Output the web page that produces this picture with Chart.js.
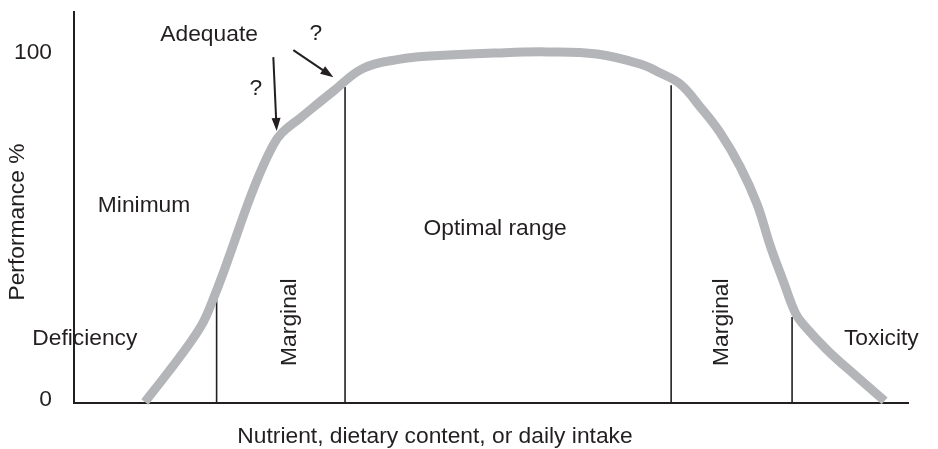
<!DOCTYPE html>
<html>
<head>
<meta charset="utf-8">
<script src="https://cdn.jsdelivr.net/npm/chart.js@4.4.0/dist/chart.umd.min.js"></script>
<style>
  html, body { margin: 0; padding: 0; background: #fff; }
  #wrap { width: 938px; height: 449px; }
</style>
</head>
<body>
<div id="wrap"><canvas id="chart" width="938" height="449"></canvas></div>
<script>
// intake (0-100 along the axis) vs performance %
const curveX = [8.5, 11.3, 13.9, 15.5, 16.5, 17.9, 19.3, 20.7, 22.3, 23.9, 24.9, 27.1, 31.1, 34.7, 39.1, 42.7, 50.7, 56.7, 62.7, 67.9, 70.3, 72.7, 75.1, 77.5, 79.9, 81.9, 83.5, 85.0, 86.5, 87.5, 90.3, 93.9, 97.2];
const curveY = [0.3, 8.9, 17.3, 23.3, 28.8, 37.5, 47.0, 56.5, 66.3, 74.4, 77.8, 82.1, 89.9, 96.5, 99.1, 100.0, 100.9, 101.2, 100.6, 97.7, 95.1, 91.9, 85.3, 77.8, 68.0, 57.3, 45.2, 35.4, 25.9, 22.5, 15.3, 7.5, 0.6];

// zone boundaries: position and height where they meet the curve
const boundaryX = [17.1, 32.5, 71.6, 86.1];
const boundaryTop = [29.7, 91.1, 91.6, 24.8];

const yTicks = [0, 100];

// "?" arrows pointing at the curve
const arrowFrom = [[23.9, 99.7], [26.3, 101.7]];
const arrowTo = [[24.3, 78.4], [31.1, 93.9]];

const zoneText = ["Adequate", "?", "?", "Minimum", "Deficiency", "Optimal range", "Toxicity", "Marginal", "Marginal"];
const zoneTextX = [16.2, 29.0, 21.8, 8.4, 1.3, 50.5, 96.8, 25.9, 77.7];
const zoneTextY = [104.3, 104.6, 88.8, 55.0, 16.7, 48.4, 16.7, 23.3, 23.3];
const zoneTextRot = [0, 0, 0, 0, 0, 0, 0, -90, -90];

const xTitle = "Nutrient, dietary content, or daily intake";
const yTitle = "Performance %";

const INK = "#231f20";
const FONT = '"Liberation Sans", Arial, Helvetica, sans-serif';
const FSIZE = 22.8;

function drawArrow(ctx, x1, y1, x2, y2) {
  const ang = Math.atan2(y2 - y1, x2 - x1);
  const len = 13, half = 4.5;
  const c = Math.cos(ang), s = Math.sin(ang);
  ctx.beginPath();
  ctx.moveTo(x1, y1);
  ctx.lineTo(x2 - len * 0.7 * c, y2 - len * 0.7 * s);
  ctx.stroke();
  ctx.beginPath();
  ctx.moveTo(x2, y2);
  ctx.lineTo(x2 - len * c + half * s, y2 - len * s - half * c);
  ctx.lineTo(x2 - len * c - half * s, y2 - len * s + half * c);
  ctx.closePath();
  ctx.fill();
}

const annotations = {
  id: "annotations",
  afterDatasetsDraw(chart) {
    const { ctx, scales: { x, y }, chartArea } = chart;
    ctx.save();
    ctx.fillStyle = INK;
    ctx.strokeStyle = INK;
    ctx.lineWidth = 2;
    arrowFrom.forEach((p, i) => {
      const q = arrowTo[i];
      drawArrow(ctx, x.getPixelForValue(p[0]), y.getPixelForValue(p[1]),
        x.getPixelForValue(q[0]), y.getPixelForValue(q[1]));
    });

    ctx.font = FSIZE + "px " + FONT;
    zoneText.forEach((t, i) => {
      const px = x.getPixelForValue(zoneTextX[i]);
      const py = y.getPixelForValue(zoneTextY[i]);
      ctx.save();
      ctx.translate(px, py);
      ctx.textAlign = "center";
      if (zoneTextRot[i]) {
        ctx.rotate(zoneTextRot[i] * Math.PI / 180);
        ctx.textBaseline = "middle";
      } else {
        ctx.textBaseline = "alphabetic";
      }
      ctx.fillText(t, 0, 0);
      ctx.restore();
    });

    // axis titles
    ctx.textAlign = "center";
    ctx.textBaseline = "alphabetic";
    ctx.fillText(xTitle, 435, chartArea.bottom + 40);
    ctx.save();
    ctx.translate(24, 222);
    ctx.rotate(-Math.PI / 2);
    ctx.fillText(yTitle, 0, 0);
    ctx.restore();
    ctx.restore();
  }
};

const datasets = [{
  data: curveX.map((v, i) => ({ x: v, y: curveY[i] })),
  borderColor: "#b4b5b8",
  borderWidth: 9,
  borderCapStyle: "butt",
  borderJoinStyle: "round",
  tension: 0.4,
  pointRadius: 0,
  clip: false,
}];
boundaryX.forEach((bx, i) => {
  datasets.push({
    data: [{ x: bx, y: 0 }, { x: bx, y: boundaryTop[i] }],
    borderColor: INK,
    borderWidth: 1.6,
    pointRadius: 0,
    clip: false,
  });
});

new Chart(document.getElementById("chart"), {
  type: "line",
  data: { datasets },
  options: {
    responsive: false,
    animation: false,
    events: [],
    layout: { padding: { top: 12, right: 30, left: 0, bottom: 0 } },
    plugins: { legend: { display: false }, tooltip: { enabled: false } },
    scales: {
      x: {
        type: "linear",
        min: 0,
        max: 100,
        ticks: { display: false },
        grid: { display: false, drawTicks: false },
        border: { display: true, color: INK, width: 2 },
        afterFit: (s) => { s.height = 46; },
      },
      y: {
        type: "linear",
        min: 0,
        max: 112.7,
        afterBuildTicks: (s) => { s.ticks = yTicks.map((v) => ({ value: v })); },
        ticks: {
          color: INK,
          font: { family: FONT, size: FSIZE },
          padding: 22,
          labelOffset: -3.5,
        },
        grid: { display: false, drawTicks: false },
        border: { display: true, color: INK, width: 2 },
        afterFit: (s) => {
          s.width = 74;
          s.paddingTop = 0;
          s.paddingBottom = 0;
        },
      },
    },
  },
  plugins: [annotations],
});
</script>
</body>
</html>
